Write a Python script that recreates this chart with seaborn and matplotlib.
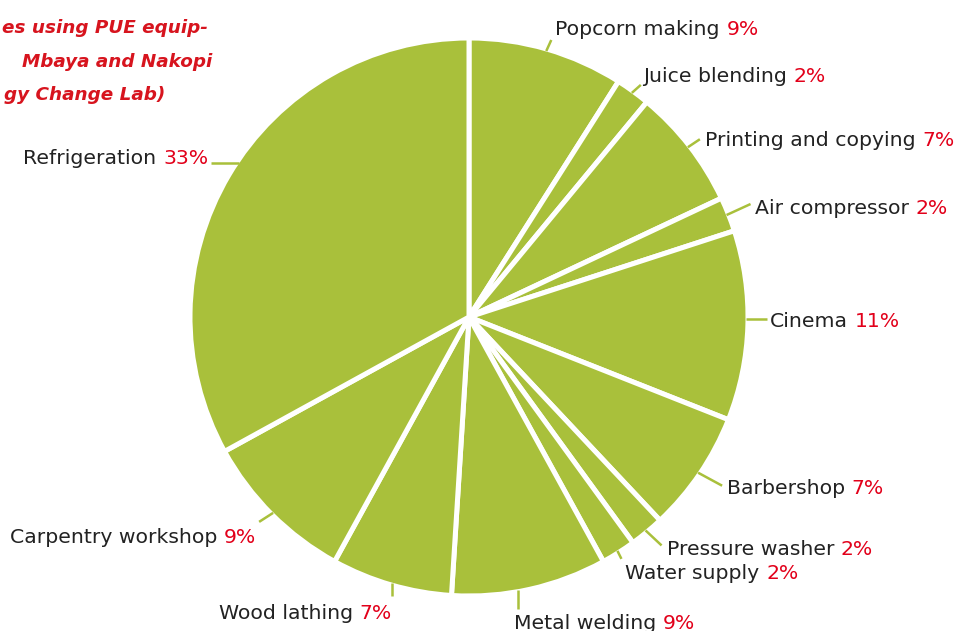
import matplotlib
matplotlib.use("Agg")
import matplotlib.pyplot as plt
import seaborn as sns
import numpy as np

# ---- data ----
categories = ["Popcorn making", "Juice blending", "Printing and copying", "Air compressor",
              "Cinema", "Barbershop", "Pressure washer", "Water supply", "Metal welding",
              "Wood lathing", "Carpentry workshop", "Refrigeration"]
shares = [9, 2, 7, 2, 11, 7, 2, 2, 9, 7, 9, 33]
pct_labels = ["9%", "2%", "7%", "2%", "11%", "7%", "2%", "2%", "9%", "7%", "9%", "33%"]
title_lines = ["es using PUE equip-", "Mbaya and Nakopi", "gy Change Lab)"]

# ---- layout (pixel units, y down) ----
W, H = 959, 631
CX, CY, R = 469, 317, 279
# angle tweak (deg, visual clockwise), leader vector, text offset from leader end, alignment
layout = [
    (0.0, (5, -11), (4, -5), "left"),
    (0.0, (9, -8), (2, -3), "left"),
    (0.0, (12, -8), (5, 7), "left"),
    (0.0, (24, -11), (4, 10), "left"),
    (-1.4, (21, 0), (3, 8), "left"),
    (0.0, (24, 13), (5, 8), "left"),
    (0.0, (16, 15), (5, 10), "left"),
    (0.0, (4, 8), (4, 20), "left"),
    (2.4, (0, 19), (-4, 20), "left"),
    (0.0, (0, 13), (0, 23), "right"),
    (0.0, (-14, 9), (-3, 21), "right"),
    (3.3, (-28, 0), (-3, 1), "right"),
]
title_right = [208, 212, 165]
title_base = [33, 67, 100]

GREEN = "#A9C03B"
RED = "#E2001A"
DARK = "#222222"
TITLE_RED = "#D7141E"
FS = 14.7

sns.set_style("white")
plt.rcParams["font.family"] = ["DejaVu Sans"]

fig = plt.figure(figsize=(W / 100, H / 100), dpi=100)
ax = fig.add_axes([0, 0, 1, 1])

wedges, _ = ax.pie(shares, colors=[GREEN] * len(shares), startangle=90, counterclock=False,
                   center=(CX, H - CY), radius=R,
                   wedgeprops=dict(edgecolor="white", linewidth=3.6, antialiased=True))
ax.set_xlim(0, W)
ax.set_ylim(0, H)
ax.set_aspect("equal", adjustable="box")
ax.axis("off")

fig.canvas.draw()
renderer = fig.canvas.get_renderer()
space_px = 0.318 * FS * 100 / 72

for w, name, pct, (tw, lv, to, ha) in zip(wedges, categories, pct_labels, layout):
    mid = np.deg2rad((w.theta1 + w.theta2) / 2 - tw)
    ex = CX + (R - 2) * np.cos(mid)
    ey = H - CY + (R - 2) * np.sin(mid)
    lx, ly = ex + lv[0], ey - lv[1]
    ax.plot([ex, lx], [ey, ly], color=GREEN, lw=1.8, solid_capstyle="butt", zorder=1)
    tx, ty = lx + to[0], ly - to[1]
    if ha == "left":
        t1 = ax.text(tx, ty, name, color=DARK, fontsize=FS, ha="left", va="baseline")
        bb = t1.get_window_extent(renderer)
        ax.text(bb.x1 + space_px, ty, pct, color=RED, fontsize=FS, ha="left", va="baseline")
    else:
        t2 = ax.text(tx, ty, pct, color=RED, fontsize=FS, ha="right", va="baseline")
        bb = t2.get_window_extent(renderer)
        ax.text(bb.x0 - space_px, ty, name, color=DARK, fontsize=FS, ha="right", va="baseline")

for line, xr, yb in zip(title_lines, title_right, title_base):
    ax.text(xr, H - yb, line, color=TITLE_RED, fontsize=13.2, fontweight="bold",
            fontstyle="italic", ha="right", va="baseline")

fig.savefig("out.png", dpi=100)
